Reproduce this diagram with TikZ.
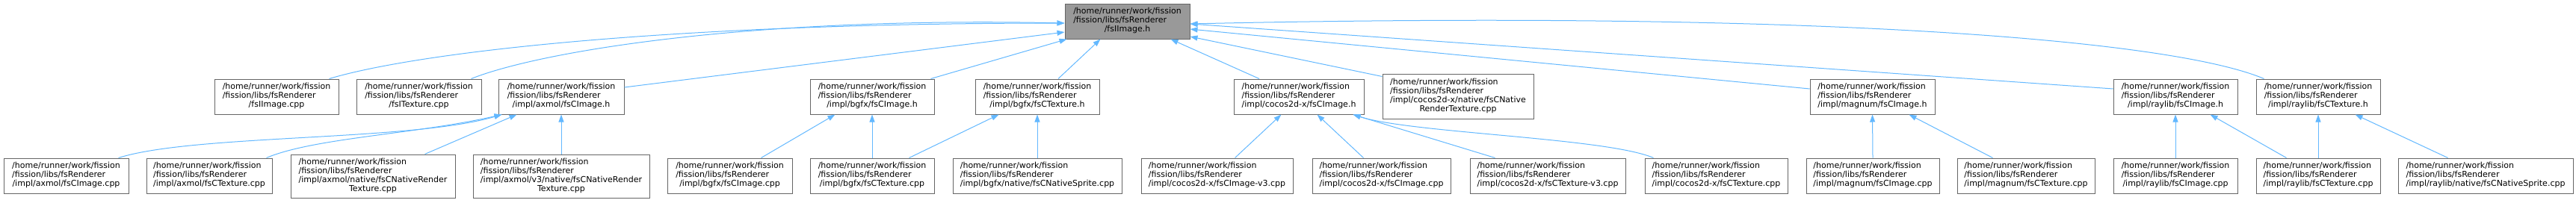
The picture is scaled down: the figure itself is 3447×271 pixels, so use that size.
\documentclass[tikz,border=0pt]{standalone}
\usepackage{fontspec}
\setmainfont{DejaVu Sans}
\usetikzlibrary{arrows.meta}
\definecolor{edgec}{HTML}{63B8FF}
\definecolor{boxc}{HTML}{666666}
\definecolor{rootc}{HTML}{999999}
\newcommand{\tl}[3]{\begin{tabular}{@{}l@{}}#1\\#2\\\multicolumn{1}{@{}c@{}}{#3}\end{tabular}}
\newcommand{\ql}[4]{\begin{tabular}{@{}l@{}}#1\\#2\\#3\\\multicolumn{1}{@{}c@{}}{#4}\end{tabular}}
\newcommand{\bx}[7][]{\node[dbox,#1, minimum width={(#4-#3)*1pt}, minimum height={(#6-#5)*1pt}] (#2) at ({(#3+#4)/2},{(#5+#6)/2}) {#7};}
\newcommand{\hp}{/home/runner/work/fission}
\newcommand{\fp}{/fission/libs/fsRenderer}
\begin{document}
\begin{tikzpicture}[x=1pt,y=-1pt,
  dbox/.style={draw=boxc, line width=1pt, fill=white, inner sep=0pt, text=black,
    font=\fontsize{11}{12}\selectfont},
  rootbox/.style={fill=rootc},
  edge/.style={draw=edgec, line width=1pt, -{Triangle[length=10pt,width=7pt]}}]
\useasboundingbox (0,0) rectangle (3447,271);
% root
\bx[rootbox]{R}{1425}{1592}{5}{52}{\tl{\hp}{\fp}{/fsIImage.h}}
% middle row
\bx{A1}{287}{453}{106}{153}{\tl{\hp}{\fp}{/fsIImage.cpp}}
\bx{A2}{477}{644}{106}{153}{\tl{\hp}{\fp}{/fsITexture.cpp}}
\bx{A3}{667}{835}{106}{153}{\tl{\hp}{\fp}{/impl/axmol/fsCImage.h}}
\bx{A4}{1084}{1250}{106}{153}{\tl{\hp}{\fp}{/impl/bgfx/fsCImage.h}}
\bx{A5}{1305}{1471}{106}{153}{\tl{\hp}{\fp}{/impl/bgfx/fsCTexture.h}}
\bx{A6}{1651}{1825}{106}{153}{\tl{\hp}{\fp}{/impl/cocos2d-x/fsCImage.h}}
\bx{A7}{1850}{2052}{99}{159}{\ql{\hp}{\fp}{/impl/cocos2d-x/native/fsCNative}{RenderTexture.cpp}}
\bx{A8}{2422}{2589}{106}{153}{\tl{\hp}{\fp}{/impl/magnum/fsCImage.h}}
\bx{A9}{2828}{2994}{106}{153}{\tl{\hp}{\fp}{/impl/raylib/fsCImage.h}}
\bx{A10}{3019}{3185}{106}{153}{\tl{\hp}{\fp}{/impl/raylib/fsCTexture.h}}
% bottom row
\bx{B1}{5}{172}{212}{259}{\tl{\hp}{\fp}{/impl/axmol/fsCImage.cpp}}
\bx{B2}{196}{364}{212}{259}{\tl{\hp}{\fp}{/impl/axmol/fsCTexture.cpp}}
\bx{B3}{389}{609}{207}{265}{\ql{\hp}{\fp}{/impl/axmol/native/fsCNativeRender}{Texture.cpp}}
\bx{B4}{633}{869}{207}{265}{\ql{\hp}{\fp}{/impl/axmol/v3/native/fsCNativeRender}{Texture.cpp}}
\bx{B5}{893}{1060}{212}{259}{\tl{\hp}{\fp}{/impl/bgfx/fsCImage.cpp}}
\bx{B6}{1084}{1250}{212}{259}{\tl{\hp}{\fp}{/impl/bgfx/fsCTexture.cpp}}
\bx{B7}{1275}{1501}{212}{259}{\tl{\hp}{\fp}{/impl/bgfx/native/fsCNativeSprite.cpp}}
\bx{B8}{1527}{1730}{212}{259}{\tl{\hp}{\fp}{/impl/cocos2d-x/fsCImage-v3.cpp}}
\bx{B9}{1756}{1941}{212}{259}{\tl{\hp}{\fp}{/impl/cocos2d-x/fsCImage.cpp}}
\bx{B10}{1967}{2175}{212}{259}{\tl{\hp}{\fp}{/impl/cocos2d-x/fsCTexture-v3.cpp}}
\bx{B11}{2201}{2392}{212}{259}{\tl{\hp}{\fp}{/impl/cocos2d-x/fsCTexture.cpp}}
\bx{B12}{2417}{2595}{212}{259}{\tl{\hp}{\fp}{/impl/magnum/fsCImage.cpp}}
\bx{B13}{2619}{2803}{212}{259}{\tl{\hp}{\fp}{/impl/magnum/fsCTexture.cpp}}
\bx{B14}{2828}{2994}{212}{259}{\tl{\hp}{\fp}{/impl/raylib/fsCImage.cpp}}
\bx{B15}{3019}{3185}{212}{259}{\tl{\hp}{\fp}{/impl/raylib/fsCTexture.cpp}}
\bx{B16}{3209}{3443}{212}{259}{\tl{\hp}{\fp}{/impl/raylib/native/fsCNativeSprite.cpp}}
% edges to root
\draw[edge] ([xshift=-13pt]A1.north east) .. controls +(120,-36) and +(-525,0) .. ([yshift=-2.5pt]R.west);
\draw[edge] ([xshift=-14pt]A2.north east) .. controls +(90,-36) and +(-425,-9) .. ([yshift=-2.5pt]R.west);
\draw[edge] ([yshift=12.5pt]A3.east) -- ([yshift=-14.5pt]R.west);
\draw[edge] ([xshift=-5pt]A4.north east) -- ([xshift=3pt]R.south west);
\draw[edge] ([xshift=28pt]A5.north) -- ([xshift=48pt]R.south west);
\draw[edge] ([xshift=-53pt]A6.north) -- ([xshift=-26pt]R.south east);
\draw[edge] ([yshift=-4pt]A7.north west) -- ([yshift=-20.5pt]R.east);
\draw[edge] ([yshift=10.5pt]A8.west) -- ([yshift=-10.5pt]R.east);
\draw[edge] ([yshift=10.5pt]A9.west) -- ([yshift=-3.5pt]R.east);
\draw[edge] ([xshift=11pt]A10.north west) .. controls +(-130,-55) and +(802,-18) .. ([yshift=-3.5pt]R.east);
% axmol
\draw[edge] ([xshift=-14pt]B1.north east) .. controls +(102,-32) and +(-122,36) .. ([xshift=5pt]A3.south west);
\draw[edge] ([xshift=-8pt]B2.north east) .. controls +(64,-27) and +(-112,26) .. ([xshift=5pt]A3.south west);
\draw[edge] ([xshift=-41pt]B3.north east) -- ([xshift=25pt]A3.south west);
\draw[edge] (B4.north) -- (A3.south);
% bgfx
\draw[edge] ([xshift=-42pt]B5.north east) -- ([xshift=34pt]A4.south west);
\draw[edge] (B6.north) -- (A4.south);
\draw[edge] ([xshift=-34pt]B6.north east) -- ([xshift=32pt]A5.south west);
\draw[edge] (B7.north) -- (A5.south);
% cocos2d-x
\draw[edge] ([xshift=-78pt]B8.north east) -- ([xshift=64pt]A6.south west);
\draw[edge] ([xshift=69pt]B9.north west) -- ([xshift=112pt]A6.south west);
\draw[edge] ([xshift=34pt]B10.north west) -- ([xshift=-15pt]A6.south east);
\draw[edge] ([xshift=12pt]B11.north west) .. controls +(-63,-27) and +(78,25) .. ([xshift=-15pt]A6.south east);
% magnum
\draw[edge] (B12.north) -- (A8.south);
\draw[edge] ([xshift=48pt]B13.north west) -- ([xshift=-35pt]A8.south east);
% raylib
\draw[edge] (B14.north) -- (A9.south);
\draw[edge] ([xshift=41pt]B15.north west) -- ([xshift=-37pt]A9.south east);
\draw[edge] (B15.north) -- (A10.south);
\draw[edge] ([xshift=67pt]B16.north west) -- ([xshift=-34pt]A10.south east);
\end{tikzpicture}
\end{document}
